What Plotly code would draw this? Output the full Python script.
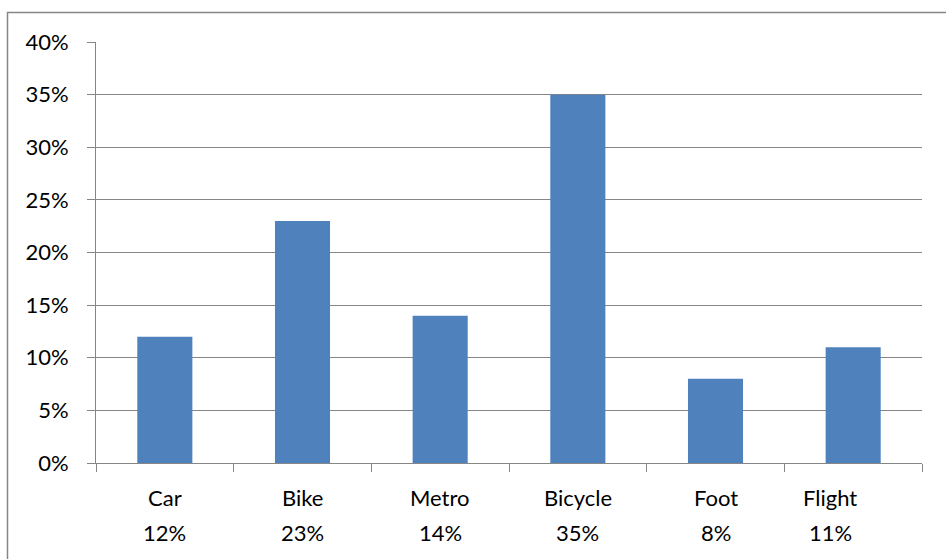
import plotly.graph_objects as go

categories = ["Car", "Bike", "Metro", "Bicycle", "Foot", "Flight"]
values = [0.12, 0.23, 0.14, 0.35, 0.08, 0.11]
value_labels = ["12%", "23%", "14%", "35%", "8%", "11%"]
y_ticks = [0, 0.05, 0.10, 0.15, 0.20, 0.25, 0.30, 0.35, 0.40]
y_tick_labels = ["0%", "5%", "10%", "15%", "20%", "25%", "30%", "35%", "40%"]

FONT = "Lato, 'Open Sans', sans-serif"
FS = 22
GRID = "#868686"

fig = go.Figure(go.Bar(x=categories, y=values, marker=dict(color="#4F81BD", line=dict(width=0)),
                       hoverinfo="skip"))

annotations = []
for c, v in zip(categories, value_labels):
    shift = -23 if c == "Flight" else 0
    annotations.append(dict(x=c, xref="x", yref="paper", y=-0.083, text=c, showarrow=False,
                            yanchor="middle", xanchor="center", xshift=shift,
                            font=dict(family=FONT, size=FS, color="#000")))
    annotations.append(dict(x=c, xref="x", yref="paper", y=-0.164, text=v, showarrow=False,
                            yanchor="middle", xanchor="center", xshift=shift,
                            font=dict(family=FONT, size=FS, color="#000")))

fig.update_layout(
    width=946, height=559,
    margin=dict(l=96, r=24, t=42, b=96, autoexpand=False),
    paper_bgcolor="white", plot_bgcolor="white",
    bargap=0.6,
    showlegend=False,
    font=dict(family=FONT, size=FS, color="#000"),
    xaxis=dict(type="category", showticklabels=False, tickson="boundaries",
               ticks="outside", ticklen=8, tickcolor=GRID, tickwidth=1,
               showline=True, linecolor=GRID, linewidth=1, showgrid=False, fixedrange=True,
               automargin=False),
    yaxis=dict(range=[0, 0.40], tickvals=y_ticks, ticktext=y_tick_labels,
               ticks="outside", ticklen=8, tickcolor=GRID, tickwidth=1,
               showline=True, linecolor=GRID, linewidth=1,
               showgrid=True, gridcolor=GRID, gridwidth=1, zeroline=False,
               ticklabelstandoff=14, tickfont=dict(family=FONT, size=FS, color="#000"),
               fixedrange=True, automargin=False),
    annotations=annotations,
    shapes=[dict(type="rect", xref="paper", yref="paper",
                 x0=(7.5 - 96) / 826, x1=(955 - 96) / 826,
                 y0=(463 - 570) / 421, y1=1 + (42 - 12.5) / 421,
                 line=dict(color="#868686", width=1.5), fillcolor="rgba(0,0,0,0)",
                 layer="below")],
)

fig.write_html("out.html", post_script="document.body.style.margin='0';",
               config={"displayModeBar": False})
